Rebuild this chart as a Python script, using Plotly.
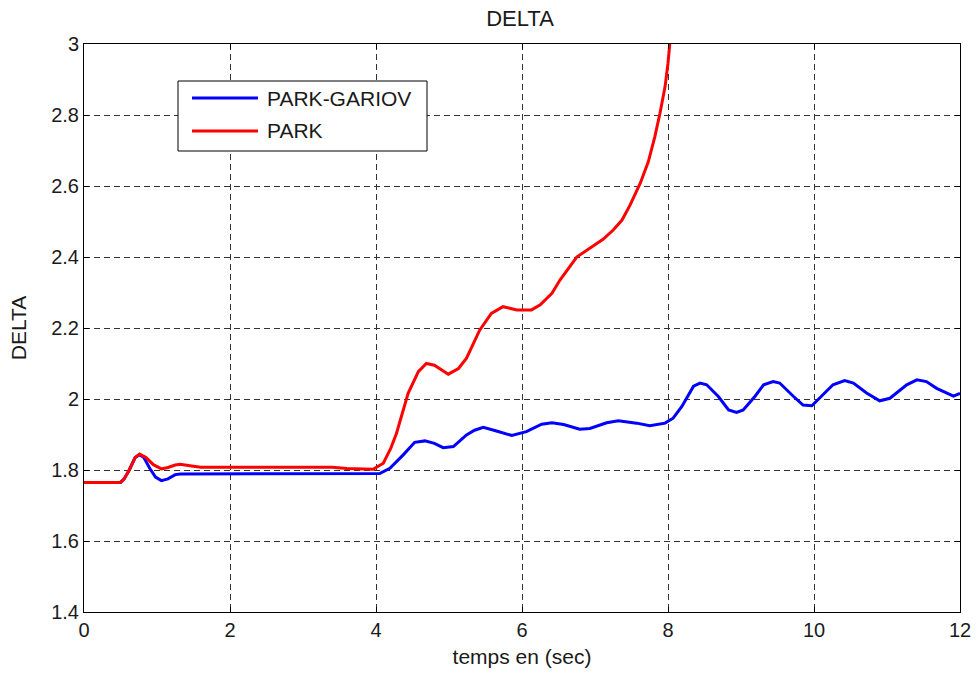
import plotly.graph_objects as go

t_gariov = [0, 0.5, 0.55, 0.62, 0.7, 0.76, 0.82, 0.9, 0.98, 1.06, 1.15, 1.25, 1.32, 2, 3, 3.78, 4.05,
            4.19, 4.37, 4.53, 4.67, 4.8, 4.92, 5.06, 5.24, 5.35, 5.47, 5.65, 5.86, 6.06, 6.27, 6.41,
            6.57, 6.79, 6.93, 7.16, 7.32, 7.57, 7.75, 7.96, 8.07, 8.19, 8.35, 8.44, 8.53, 8.69, 8.83,
            8.94, 9.03, 9.19, 9.31, 9.44, 9.53, 9.72, 9.85, 9.97, 10.10, 10.26, 10.42, 10.54, 10.72,
            10.90, 11.04, 11.27, 11.41, 11.54, 11.68, 11.82, 11.91, 12.0]
d_gariov = [1.765, 1.765, 1.775, 1.80, 1.835, 1.843, 1.835, 1.805, 1.78, 1.770, 1.775, 1.787, 1.789,
            1.789, 1.789, 1.789, 1.790, 1.805, 1.842, 1.878, 1.882, 1.875, 1.863, 1.866, 1.899, 1.912,
            1.920, 1.910, 1.897, 1.908, 1.929, 1.933, 1.928, 1.915, 1.917, 1.933, 1.939, 1.932, 1.925,
            1.932, 1.946, 1.979, 2.036, 2.045, 2.040, 2.007, 1.969, 1.962, 1.969, 2.007, 2.040, 2.049,
            2.045, 2.007, 1.983, 1.981, 2.007, 2.040, 2.052, 2.045, 2.017, 1.995, 2.002, 2.040, 2.054,
            2.049, 2.030, 2.017, 2.008, 2.016]

t_park = [0, 0.5, 0.55, 0.62, 0.7, 0.76, 0.85, 0.95, 1.06, 1.15, 1.25, 1.32, 1.45, 1.6, 2, 3, 3.4,
          3.6, 3.96, 4.1, 4.2, 4.28, 4.44, 4.58, 4.69, 4.8, 4.99, 5.13, 5.24, 5.42, 5.58, 5.74, 5.93,
          6.13, 6.25, 6.41, 6.52, 6.75, 6.93, 7.11, 7.25, 7.37, 7.48, 7.62, 7.73, 7.82, 7.89, 7.96,
          8.00, 8.03, 8.06]
d_park = [1.765, 1.765, 1.775, 1.80, 1.835, 1.845, 1.835, 1.815, 1.803, 1.807, 1.814, 1.816, 1.812,
          1.808, 1.808, 1.808, 1.808, 1.804, 1.802, 1.819, 1.86, 1.903, 2.016, 2.077, 2.100, 2.095,
          2.070, 2.086, 2.115, 2.194, 2.241, 2.260, 2.251, 2.251, 2.265, 2.298, 2.335, 2.400, 2.425,
          2.450, 2.476, 2.504, 2.546, 2.608, 2.668, 2.739, 2.805, 2.880, 2.946, 3.000, 3.08]

x_ticks = [0, 2, 4, 6, 8, 10, 12]
y_ticks = [1.4, 1.6, 1.8, 2, 2.2, 2.4, 2.6, 2.8, 3]
y_tick_labels = ["1.4", "1.6", "1.8", "2", "2.2", "2.4", "2.6", "2.8", "3"]

series_names = ["PARK-GARIOV", "PARK"]
series_colors = ["#0000ff", "#ff0000"]

FONT = "Liberation Sans, Arial, sans-serif"

fig = go.Figure()
fig.add_trace(go.Scatter(x=t_gariov, y=d_gariov, mode="lines", name=series_names[0],
                         line=dict(color=series_colors[0], width=3), showlegend=False))
fig.add_trace(go.Scatter(x=t_park, y=d_park, mode="lines", name=series_names[1],
                         line=dict(color=series_colors[1], width=3), showlegend=False))

axis_common = dict(
    showline=True, linecolor="black", linewidth=1, mirror="allticks",
    ticks="inside", ticklen=5, tickcolor="black",
    showgrid=True, gridcolor="#333333", gridwidth=1, griddash="6px,4px",
    zeroline=False, automargin=False,
    tickfont=dict(family=FONT, size=20, color="#1a1a1a"),
)

fig.update_xaxes(range=[0, 12], tickvals=x_ticks, **axis_common,
                 title=dict(text="temps en (sec)", font=dict(family=FONT, size=21, color="#1a1a1a"), standoff=9))
fig.update_yaxes(range=[1.4, 3], tickvals=y_ticks, ticktext=y_tick_labels, **axis_common,
                 title=dict(text="DELTA", font=dict(family=FONT, size=21, color="#1a1a1a"), standoff=18))

# Plot area in page pixels: x 84..960, y 44..612
def px_x(p):
    return (p - 84) / 876.0

def px_y(p):
    return (612 - p) / 568.0

shapes = [
    dict(type="rect", xref="paper", yref="paper", x0=px_x(178), x1=px_x(427), y0=px_y(151), y1=px_y(81),
         line=dict(color="black", width=1), fillcolor="white", layer="above"),
]
annotations = []
for i, (name, col) in enumerate(zip(series_names, series_colors)):
    yy = px_y(98 + 33 * i)
    shapes.append(dict(type="line", xref="paper", yref="paper", x0=px_x(192), x1=px_x(258), y0=yy, y1=yy,
                       line=dict(color=col, width=3), layer="above"))
    annotations.append(dict(xref="paper", yref="paper", x=px_x(265), y=yy, text=name, showarrow=False,
                            xanchor="left", yanchor="middle",
                            font=dict(family=FONT, size=21, color="#1a1a1a")))

fig.update_layout(
    width=977, height=678,
    margin=dict(l=84, r=17, t=44, b=66),
    paper_bgcolor="white", plot_bgcolor="white",
    title=dict(text="DELTA", x=520 / 977, xanchor="center", y=1 - 18 / 678, yanchor="middle",
               font=dict(family=FONT, size=22, color="#1a1a1a")),
    shapes=shapes, annotations=annotations,
    showlegend=False,
)

fig.write_html("out.html", config={"displayModeBar": False},
               post_script="document.body.style.margin='0';document.body.style.overflow='hidden';")
